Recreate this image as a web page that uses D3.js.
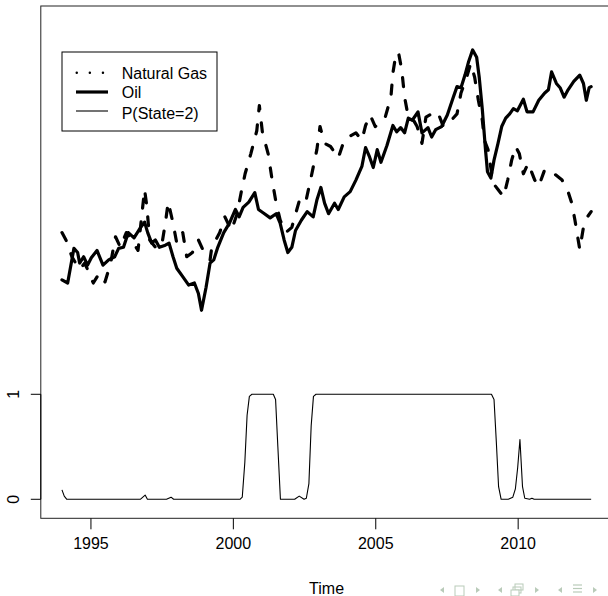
<!DOCTYPE html>
<html>
<head>
<meta charset="utf-8">
<script src="https://cdn.jsdelivr.net/npm/d3@7"></script>
<style>
  body { margin: 0; background: #fff; }
  svg { display: block; font-family: "Liberation Sans", Arial, sans-serif; }
</style>
</head>
<body>
<div id="main"></div>
<script>
// decimal years, values
const oilDates = [1994.0, 1994.2, 1994.42, 1994.55, 1994.62, 1994.76, 1994.9, 1995.03, 1995.23, 1995.44, 1995.64, 1995.85, 1995.99,
  1996.16, 1996.33, 1996.53, 1996.74, 1996.9, 1997.01, 1997.15, 1997.28, 1997.42, 1997.63, 1997.76, 1997.9, 1998.03, 1998.24,
  1998.45, 1998.65, 1998.79, 1998.9, 1999.06, 1999.2, 1999.33, 1999.47, 1999.68, 1999.88, 2000.09, 2000.22, 2000.36, 2000.56,
  2000.77, 2000.9, 2001.11, 2001.31, 2001.52, 2001.66, 2001.8, 2001.93, 2002.07, 2002.2, 2002.41, 2002.61, 2002.82, 2002.95,
  2003.09, 2003.22, 2003.36, 2003.57, 2003.7, 2003.91, 2004.12, 2004.32, 2004.53, 2004.66, 2004.8, 2004.93, 2005.07, 2005.2,
  2005.41, 2005.62, 2005.75, 2005.89, 2006.03, 2006.16, 2006.3, 2006.5, 2006.64, 2006.85, 2006.98, 2007.12, 2007.33, 2007.53,
  2007.74, 2007.87, 2008.01, 2008.15, 2008.28, 2008.42, 2008.56, 2008.65, 2008.76, 2008.87, 2008.94, 2009.06, 2009.17, 2009.31,
  2009.44, 2009.58, 2009.72, 2009.85, 2009.99, 2010.2, 2010.33, 2010.54, 2010.74, 2010.95, 2011.08, 2011.19, 2011.36, 2011.49,
  2011.63, 2011.77, 2011.97, 2012.18, 2012.31, 2012.41, 2012.51, 2012.58];
const oilValues = [2.09, 2.06, 2.39, 2.35, 2.25, 2.31, 2.23, 2.30, 2.37, 2.23, 2.28, 2.31, 2.39,
  2.40, 2.54, 2.49, 2.58, 2.64, 2.54, 2.44, 2.47, 2.40, 2.42, 2.44, 2.31, 2.20, 2.12,
  2.04, 2.06, 1.96, 1.80, 2.02, 2.25, 2.28, 2.40, 2.54, 2.63, 2.76, 2.69, 2.78, 2.83,
  2.92, 2.76, 2.72, 2.68, 2.72, 2.63, 2.47, 2.35, 2.40, 2.56, 2.66, 2.74, 2.69, 2.85,
  2.97, 2.82, 2.72, 2.82, 2.76, 2.88, 2.93, 3.04, 3.17, 3.35, 3.26, 3.16, 3.33, 3.21,
  3.37, 3.56, 3.50, 3.54, 3.49, 3.63, 3.61, 3.69, 3.49, 3.54, 3.45, 3.52, 3.55, 3.66,
  3.83, 3.93, 3.92, 4.04, 4.17, 4.28, 4.21, 4.02, 3.71, 3.33, 3.12, 3.06, 3.23, 3.39,
  3.55, 3.63, 3.67, 3.72, 3.70, 3.81, 3.69, 3.69, 3.80, 3.87, 3.90, 4.07, 3.96, 3.92,
  3.83, 3.90, 3.98, 4.04, 3.96, 3.80, 3.92, 3.93];

const gasDates = [1994.0, 1994.14, 1994.35, 1994.48, 1994.62, 1994.8, 1995.1, 1995.3, 1995.51, 1995.71, 1995.88, 1996.05,
  1996.26, 1996.4, 1996.67, 1996.9, 1996.98, 1997.08, 1997.28, 1997.49, 1997.63, 1997.73, 1997.9, 1998.03, 1998.24, 1998.38,
  1998.58, 1998.79, 1998.99, 1999.2, 1999.26, 1999.54, 1999.72, 1999.95, 2000.15, 2000.29, 2000.43, 2000.63, 2000.84, 2000.93,
  2001.04, 2001.24, 2001.38, 2001.52, 2001.66, 2001.86, 2002.07, 2002.34, 2002.55, 2002.75, 2002.95, 2003.06, 2003.22, 2003.43,
  2003.7, 2003.91, 2004.05, 2004.32, 2004.53, 2004.66, 2004.82, 2005.0, 2005.18, 2005.34, 2005.55, 2005.62, 2005.73, 2005.82,
  2005.93, 2006.03, 2006.14, 2006.3, 2006.47, 2006.64, 2006.78, 2006.98, 2007.19, 2007.39, 2007.67, 2007.87, 2008.01, 2008.21,
  2008.35, 2008.49, 2008.62, 2008.76, 2008.83, 2008.96, 2009.14, 2009.31, 2009.51, 2009.65, 2009.79, 2009.93, 2010.06, 2010.2,
  2010.37, 2010.6, 2010.74, 2010.95, 2011.15, 2011.33, 2011.56, 2011.77, 2011.9, 2012.01, 2012.18, 2012.31, 2012.45, 2012.58];
const gasValues = [2.54, 2.47, 2.31, 2.25, 2.19, 2.25, 2.06, 2.15, 2.07, 2.25, 2.50, 2.40,
  2.54, 2.49, 2.37, 2.95, 2.79, 2.47, 2.40, 2.40, 2.63, 2.83, 2.63, 2.44, 2.54, 2.31,
  2.35, 2.47, 2.35, 2.28, 2.40, 2.54, 2.69, 2.56, 2.72, 2.92, 3.10, 3.29, 3.51, 3.75,
  3.49, 3.29, 3.04, 2.82, 2.66, 2.54, 2.59, 2.85, 2.82, 3.07, 3.33, 3.55, 3.39, 3.36,
  3.25, 3.42, 3.45, 3.49, 3.42, 3.56, 3.66, 3.55, 3.59, 3.63, 3.83, 4.06, 4.25, 4.25,
  4.09, 3.83, 3.67, 3.63, 3.55, 3.39, 3.64, 3.67, 3.69, 3.55, 3.61, 3.67, 3.87, 4.02,
  4.15, 4.02, 3.80, 3.61, 3.42, 3.33, 3.01, 2.95, 2.88, 3.04, 3.23, 3.36, 3.29, 3.10,
  3.20, 3.04, 2.98, 3.14, 3.12, 3.09, 3.04, 2.93, 2.82, 2.66, 2.38, 2.59, 2.69, 2.74];

const pDates = [1994.0, 1994.08, 1994.17, 1996.75, 1996.92, 1997.0, 1997.67, 1997.83, 1997.92, 2000.25, 2000.33, 2000.42,
  2000.5, 2000.58, 2000.67, 2001.42, 2001.5, 2001.58, 2001.67, 2002.17, 2002.33, 2002.5, 2002.58, 2002.67, 2002.75, 2002.83,
  2002.92, 2009.08, 2009.17, 2009.25, 2009.33, 2009.42, 2009.67, 2009.83, 2009.92, 2010.0, 2010.08, 2010.17, 2010.25, 2010.42,
  2010.5, 2010.58, 2012.58];
const pValues = [0.09, 0.03, 0.0, 0.0, 0.04, 0.0, 0.0, 0.02, 0.0, 0.0, 0.02, 0.35,
  0.8, 0.98, 1.0, 1.0, 0.95, 0.5, 0.0, 0.0, 0.03, 0.0, 0.01, 0.15, 0.7, 0.98,
  1.0, 1.0, 0.95, 0.55, 0.12, 0.0, 0.0, 0.02, 0.1, 0.3, 0.57, 0.12, 0.01, 0.0,
  0.01, 0.0, 0.0];

const xTicks = [1995, 2000, 2005, 2010];
const yTicks = [0, 1];
const legendLabels = ['Natural Gas', 'Oil', 'P(State=2)'];

const W = 608, H = 596;
const plot = {left: 40.8, right: 612.4, top: 6, bottom: 518.3};

let svg = d3.select('#main').append('svg').attr('width', W).attr('height', H);

let span = 2012.583 - 1994;
let x = d3.scaleLinear().domain([1994 - 0.04 * span, 2012.583 + 0.04 * span]).range([plot.left, plot.right]);
let y = d3.scaleLinear().domain([-0.181, 4.698]).range([plot.bottom, plot.top]);

let toPts = (dates, vals) => dates.map((d, i) => [d, vals[i]]);
let line = d3.line().x(d => x(d[0])).y(d => y(d[1]));

// box
svg.append('rect')
  .attr('x', plot.left).attr('y', plot.top)
  .attr('width', plot.right - plot.left).attr('height', plot.bottom - plot.top)
  .attr('fill', 'none').attr('stroke', '#222').attr('stroke-width', 1);

svg.append('path').datum(toPts(gasDates, gasValues))
  .attr('d', line).attr('fill', 'none').attr('stroke', '#000')
  .attr('stroke-width', 3.2).attr('stroke-dasharray', '9,14')
  .attr('stroke-linecap', 'round').attr('stroke-linejoin', 'round');

svg.append('path').datum(toPts(oilDates, oilValues))
  .attr('d', line).attr('fill', 'none').attr('stroke', '#000')
  .attr('stroke-width', 3.2).attr('stroke-linecap', 'round').attr('stroke-linejoin', 'round');

svg.append('path').datum(toPts(pDates, pValues))
  .attr('d', line).attr('fill', 'none').attr('stroke', '#000')
  .attr('stroke-width', 1.1).attr('stroke-linejoin', 'round');

// axes
let xAxis = d3.axisBottom(x).tickValues(xTicks).tickSize(11).tickPadding(8).tickFormat(d3.format('d'));
let xg = svg.append('g').attr('transform', `translate(0,${plot.bottom})`).call(xAxis);
xg.select('.domain').remove();
xg.selectAll('text').style('font-size', '16px').attr('fill', '#000');

let yAxis = d3.axisLeft(y).tickValues(yTicks).tickSize(10).tickFormat(d3.format('d'));
let yg = svg.append('g').attr('transform', `translate(${plot.left},0)`).call(yAxis);
yg.select('.domain').attr('d', `M0,${y(0)}V${y(1)}`);
yg.selectAll('text')
  .attr('x', null).attr('dy', null)
  .attr('transform', d => `translate(-22,${y(d)}) rotate(-90)`)
  .attr('text-anchor', 'middle')
  .style('font-size', '16px').attr('fill', '#000');
yg.selectAll('.tick').attr('transform', null);
yg.selectAll('.tick line').attr('y1', d => y(d)).attr('y2', d => y(d));

svg.append('text').attr('x', (plot.left + plot.right) / 2).attr('y', 594)
  .attr('text-anchor', 'middle').style('font-size', '16px').text('Time');

// legend
let lg = svg.append('g').attr('transform', 'translate(62,52)');
lg.append('rect').attr('width', 155).attr('height', 79).attr('fill', '#fff').attr('stroke', '#000').attr('stroke-width', 1);
let rowY = [20.7, 40, 59];
lg.append('line').attr('x1', 14.7).attr('x2', 46).attr('y1', rowY[0]).attr('y2', rowY[0])
  .attr('stroke', '#000').attr('stroke-width', 2.4).attr('stroke-dasharray', '0.1,13').attr('stroke-linecap', 'round');
lg.append('line').attr('x1', 14).attr('x2', 46).attr('y1', rowY[1]).attr('y2', rowY[1])
  .attr('stroke', '#000').attr('stroke-width', 3.2);
lg.append('line').attr('x1', 14).attr('x2', 46).attr('y1', rowY[2]).attr('y2', rowY[2])
  .attr('stroke', '#000').attr('stroke-width', 1.1);
lg.selectAll('text.lab').data(legendLabels).join('text').classed('lab', true)
  .attr('x', 59.7).attr('y', (d, i) => [21, 40, 61][i] + 5.8)
  .style('font-size', '16px').text(d => d);

// beamer navigation symbols
let nav = svg.append('g').attr('fill', '#b9cbb9').attr('stroke', '#b9cbb9');
[442, 500, 560].forEach(cx => nav.append('path').attr('d', `M${cx + 2},587l-4,3l4,3z`).attr('stroke', 'none'));
[478, 537, 595].forEach(cx => nav.append('path').attr('d', `M${cx - 2},587l4,3l-4,3z`).attr('stroke', 'none'));
nav.append('rect').attr('x', 455).attr('y', 586).attr('width', 9).attr('height', 10).attr('fill', 'none').attr('stroke-width', 1);
nav.append('rect').attr('x', 515).attr('y', 584).attr('width', 8).attr('height', 6).attr('fill', 'none').attr('stroke-width', 1);
nav.append('rect').attr('x', 513).attr('y', 587).attr('width', 8).attr('height', 6).attr('fill', 'none').attr('stroke-width', 1);
nav.append('rect').attr('x', 511).attr('y', 590).attr('width', 8).attr('height', 6).attr('fill', '#fff').attr('stroke-width', 1);
[585, 588.5, 592].forEach(yy => nav.append('line').attr('x1', 573).attr('x2', 582).attr('y1', yy).attr('y2', yy).attr('stroke-width', 1.2));
</script>
</body>
</html>
